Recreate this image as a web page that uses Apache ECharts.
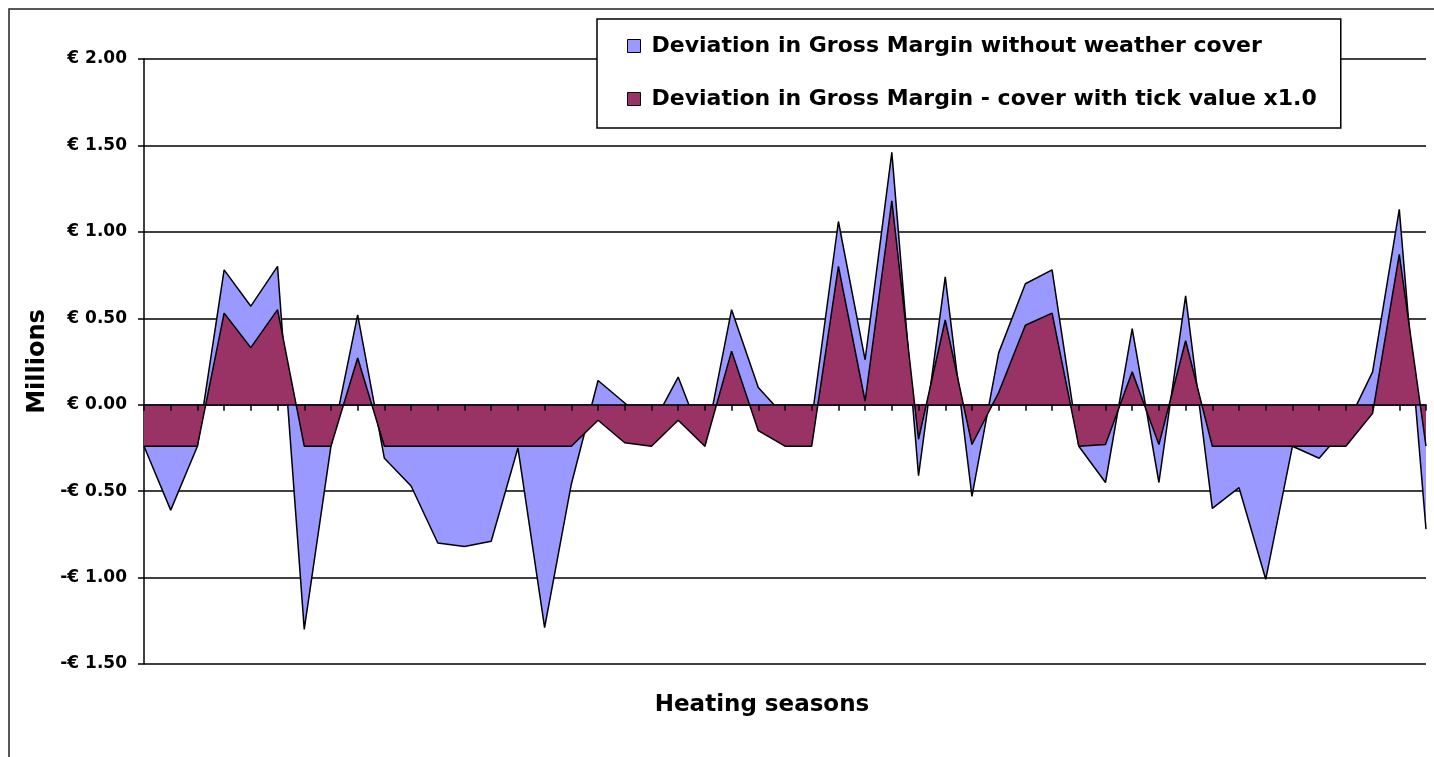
<!DOCTYPE html>
<html>
<head>
<meta charset="utf-8">
<title>Deviation in Gross Margin</title>
<script src="https://cdn.jsdelivr.net/npm/echarts@6.0.0/dist/echarts.min.js"></script>
<style>
  html, body { margin: 0; padding: 0; background: #fff; }
  #chart { width: 1434px; height: 757px; }
</style>
</head>
<body>
<div id="chart"></div>
<script>
// heating seasons (category axis, labels not shown)
const seasons = [
  '1', '2', '3', '4', '5', '6', '7', '8', '9', '10',
  '11', '12', '13', '14', '15', '16', '17', '18', '19', '20',
  '21', '22', '23', '24', '25', '26', '27', '28', '29', '30',
  '31', '32', '33', '34', '35', '36', '37', '38', '39', '40',
  '41', '42', '43', '44', '45', '46', '47', '48', '49'
]

// deviation without weather cover (millions €)
const withoutCover = [
  -0.24, -0.61, -0.24, 0.78, 0.57, 0.80, -1.30, -0.24, 0.52, -0.31,
  -0.47, -0.80, -0.82, -0.79, -0.25, -1.29, -0.46, 0.14, 0.01, -0.13,
  0.16, -0.24, 0.55, 0.10, -0.07, -0.09, 1.06, 0.26, 1.46, -0.41,
  0.74, -0.53, 0.30, 0.70, 0.78, -0.24, -0.45, 0.44, -0.45, 0.63,
  -0.60, -0.48, -1.01, -0.24, -0.31, -0.13, 0.19, 1.13, -0.72
]

// deviation with cover, tick value x1.0 (millions €)
const withCover = [
  -0.24, -0.24, -0.24, 0.53, 0.33, 0.55, -0.24, -0.24, 0.27, -0.24,
  -0.24, -0.24, -0.24, -0.24, -0.24, -0.24, -0.24, -0.09, -0.22, -0.24,
  -0.09, -0.24, 0.31, -0.15, -0.24, -0.24, 0.80, 0.02, 1.18, -0.20,
  0.49, -0.23, 0.07, 0.46, 0.53, -0.24, -0.23, 0.19, -0.23, 0.37,
  -0.24, -0.24, -0.24, -0.24, -0.24, -0.24, -0.05, 0.87, -0.24
]

const seriesNames = [
  'Deviation in Gross Margin without weather cover',
  'Deviation in Gross Margin - cover with tick value x1.0'
]
const seriesColors = ['#9999ff', '#993366']

const FONT = 'DejaVu Sans'

const chart = echarts.init(document.getElementById('chart'))

const option = {
  animation: false,
  backgroundColor: '#fff',
  grid: {
    left: 144,
    right: 8,
    top: 59,
    bottom: 93,
    containLabel: false
  },
  legend: {
    orient: 'vertical',
    left: 597,
    top: 19,
    padding: [14, 24, 16, 30],
    itemGap: 27,
    itemWidth: 13,
    itemHeight: 13,
    icon: 'rect',
    backgroundColor: '#fff',
    borderColor: '#000',
    borderWidth: 1.5,
    borderRadius: 0,
    textStyle: {
      fontFamily: FONT,
      fontWeight: 'bold',
      fontSize: 22,
      lineHeight: 26,
      color: '#000',
      padding: [0, 0, 0, 6]
    },
    data: seriesNames.map((name, i) => ({
      name,
      itemStyle: { color: seriesColors[i], borderColor: '#000', borderWidth: 1 }
    }))
  },
  xAxis: {
    type: 'category',
    data: seasons,
    boundaryGap: false,
    z: 10,
    axisLine: { onZero: true, lineStyle: { color: '#000', width: 1.5 } },
    axisTick: { show: true, interval: 0, length: 6, lineStyle: { color: '#000', width: 1.5 } },
    axisLabel: { show: false },
    splitLine: { show: false }
  },
  yAxis: {
    type: 'value',
    min: -1.5,
    max: 2,
    interval: 0.5,
    name: 'Millions',
    nameLocation: 'middle',
    nameRotate: 90,
    nameGap: 91,
    nameTextStyle: {
      fontFamily: FONT,
      fontWeight: 'bold',
      fontSize: 24,
      color: '#000'
    },
    axisLine: { show: true, lineStyle: { color: '#000', width: 1.5 } },
    axisTick: { show: true, length: 6, lineStyle: { color: '#000', width: 1.5 } },
    axisLabel: {
      margin: 17,
      fontFamily: FONT,
      fontWeight: 'bold',
      fontSize: 17,
      color: '#000',
      formatter: (v) => (v < 0 ? '-€ ' : '€ ') + Math.abs(v).toFixed(2)
    },
    splitLine: { show: true, lineStyle: { color: '#000', width: 1.5 } }
  },
  graphic: [
    {
      // outer chart-area border
      type: 'rect',
      z: -1,
      shape: { x: 9, y: 9, width: 1500, height: 800 },
      style: { fill: 'none', stroke: '#222', lineWidth: 1.5 }
    },
    {
      type: 'text',
      x: 762,
      y: 705,
      style: {
        text: 'Heating seasons',
        fontFamily: FONT,
        fontWeight: 'bold',
        fontSize: 23,
        fill: '#000',
        align: 'center',
        verticalAlign: 'middle'
      }
    }
  ],
  series: [
    {
      name: seriesNames[0],
      type: 'line',
      z: 3,
      data: withoutCover,
      showSymbol: false,
      symbol: 'none',
      itemStyle: { color: seriesColors[0] },
      lineStyle: { color: '#000', width: 1.5 },
      areaStyle: { color: seriesColors[0], opacity: 1 }
    },
    {
      name: seriesNames[1],
      type: 'line',
      z: 4,
      data: withCover,
      showSymbol: false,
      symbol: 'none',
      itemStyle: { color: seriesColors[1] },
      lineStyle: { color: '#000', width: 1.5 },
      areaStyle: { color: seriesColors[1], opacity: 1 }
    }
  ]
}

chart.setOption(option)
</script>
</body>
</html>
